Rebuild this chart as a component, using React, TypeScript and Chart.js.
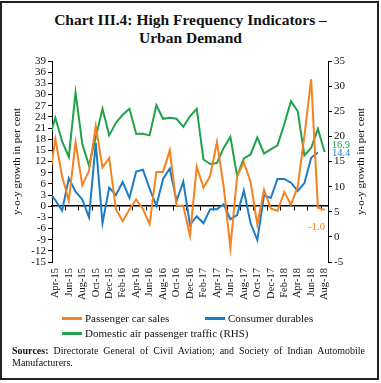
import React, { useEffect, useRef } from 'react';
import { Chart, registerables } from 'chart.js';

Chart.register(...registerables);

// Monthly categories (Mar-15 sits just left of the visible range and is clipped)
const months = [
  'Mar-15', 'Apr-15', 'May-15', 'Jun-15', 'Jul-15', 'Aug-15', 'Sep-15', 'Oct-15', 'Nov-15', 'Dec-15',
  'Jan-16', 'Feb-16', 'Mar-16', 'Apr-16', 'May-16', 'Jun-16', 'Jul-16', 'Aug-16', 'Sep-16', 'Oct-16', 'Nov-16', 'Dec-16',
  'Jan-17', 'Feb-17', 'Mar-17', 'Apr-17', 'May-17', 'Jun-17', 'Jul-17', 'Aug-17', 'Sep-17', 'Oct-17', 'Nov-17', 'Dec-17',
  'Jan-18', 'Feb-18', 'Mar-18', 'Apr-18', 'May-18', 'Jun-18', 'Jul-18', 'Aug-18',
];

const passengerCarSales = [
  6.3,
  18.0, 8.0, 1.5, 17.2, 5.6, 9.5, 21.5, 10.4, 12.9,
  -0.9, -4.0, -0.9, 1.8, -0.7, -4.8, 9.2, 9.2, 15.0, 0.2, 0.1, -8.0,
  10.6, 5.0, 8.1, 17.2, 5.3, -11.2, 8.1, 11.8, 6.5, -4.9, 4.4, -0.6,
  -1.3, 3.8, 0.4, 5.2, 19.0, 34.1, -0.4, -1.0,
];

const consumerDurables = [
  4.0,
  1.6, -1.2, 7.5, 3.9, 1.8, -3.0, 17.0, -4.6, 5.0,
  3.0, 6.5, 2.2, 9.3, 9.8, 4.7, 0.1, 7.3, 10.1, 1.4, 6.6, -5.0,
  -2.7, -4.6, -0.8, -0.8, 0.5, -3.5, -2.4, 4.2, -4.6, -9.1, 2.9, 2.2,
  7.3, 7.3, 6.3, 4.1, 6.2, 13.0, 14.4, null,
];

const domesticAirTraffic = [
  19.3,
  23.7, 19.0, 15.9, 28.7, 18.5, 14.2, 19.8, 25.5, 20.2,
  22.7, 24.3, 25.5, 20.5, 20.5, 20.2, 26.2, 23.5, 23.7, 23.5, 21.9, 24.0,
  25.5, 15.4, 14.5, 14.7, 17.7, 19.9, 12.1, 15.6, 16.4, 19.8, 16.6, 17.4,
  18.2, 22.4, 27.0, 25.0, 16.2, 17.7, 21.5, 16.9,
];

const seriesNames = ['Passenger car sales', 'Consumer durables', 'Domestic air passenger traffic (RHS)'];
const seriesColors = ['#F58220', '#1C7DC4', '#1FA34A'];

const leftAxis = { min: -15, max: 39, step: 3 };
const rightAxis = { min: -5, max: 35, step: 5 };

const axisTitle = 'y-o-y growth in per cent';
const FONT = '"Liberation Serif", "Times New Roman", serif';

// label placement relative to each series' last point
const endLabelStyle = [
  { dx: -8, dy: 17, align: 'center' },
  { dx: 14, dy: 1, align: 'left' },
  { dx: 7, dy: -7, align: 'left' },
];

const endLabelPlugin = {
  id: 'endLabels',
  afterDatasetsDraw(chart: any) {
    const ctx = chart.ctx;
    chart.data.datasets.forEach((ds: any, di: number) => {
      const meta = chart.getDatasetMeta(di);
      let idx = ds.data.length - 1;
      while (idx >= 0 && ds.data[idx] == null) idx--;
      const pt = meta.data[idx];
      if (!pt) return;
      const st = endLabelStyle[di];
      ctx.save();
      ctx.font = `10.5px ${FONT}`;
      ctx.fillStyle = ds.borderColor;
      ctx.textAlign = st.align;
      ctx.textBaseline = 'middle';
      ctx.fillText(Number(ds.data[idx]).toFixed(1), pt.x + st.dx, pt.y + st.dy);
      ctx.restore();
    });
  },
};

const rightTitlePlugin = {
  id: 'rightTitle',
  afterDraw(chart: any) {
    const s = chart.scales.y1;
    const ctx = chart.ctx;
    const area = chart.chartArea;
    ctx.save();
    ctx.translate(s.right - 20, (area.top + area.bottom) / 2);
    ctx.rotate(-Math.PI / 2);
    ctx.font = `11px ${FONT}`;
    ctx.fillStyle = '#111';
    ctx.textAlign = 'center';
    ctx.textBaseline = 'middle';
    ctx.fillText(axisTitle, 0, 0);
    ctx.restore();
  },
};

function ChartCanvas() {
  const ref = useRef<HTMLCanvasElement | null>(null);
  useEffect(() => {
    if (!ref.current) return;
    Chart.defaults.font.family = FONT;
    Chart.defaults.color = '#111';
    const mk = (data: (number | null)[], i: number, yAxisID: string) => ({
      label: seriesNames[i],
      data,
      borderColor: seriesColors[i],
      backgroundColor: seriesColors[i],
      borderWidth: 2,
      pointRadius: 0,
      tension: 0,
      fill: false,
      xAxisID: 'x',
      yAxisID,
    });
    const chart = new Chart(ref.current, {
      type: 'line',
      data: {
        labels: months,
        datasets: [
          mk(passengerCarSales, 0, 'y'),
          mk(consumerDurables, 1, 'y'),
          mk(domesticAirTraffic, 2, 'y1'),
        ],
      },
      plugins: [endLabelPlugin, rightTitlePlugin],
      options: {
        responsive: false,
        animation: false,
        layout: { padding: { top: 61, bottom: 76, left: 0, right: 0 } },
        plugins: { legend: { display: false }, tooltip: { enabled: false }, title: { display: false } },
        scales: {
          x: {
            type: 'category',
            position: 'bottom',
            min: months[1],
            offset: true,
            grid: { display: false, drawTicks: false },
            border: { display: false },
            ticks: {
              autoSkip: false,
              maxRotation: 90,
              minRotation: 90,
              padding: 6,
              font: { size: 10.5 },
              color: '#111',
              callback: (value: any) => {
                const v = Number(value);
                return (v - 1) % 2 === 0 ? months[v] : '';
              },
            },
            afterFit: (scale: any) => { scale.height = 45; },
          },
          x2: {
            type: 'category',
            axis: 'x',
            position: { y: 0 },
            min: months[1],
            offset: true,
            grid: {
              display: true,
              drawOnChartArea: false,
              drawTicks: true,
              tickLength: 4,
              offset: true,
              color: '#000',
              tickColor: (ctx: any) => {
                const v = ctx.tick ? Number(ctx.tick.value) : -1;
                return v >= 3 && v % 2 === 1 ? '#000' : 'rgba(0,0,0,0)';
              },
            },
            border: { display: true, color: '#000', width: 1.5 },
            ticks: { display: false, autoSkip: false },
          },
          y: {
            type: 'linear',
            position: 'left',
            min: leftAxis.min,
            max: leftAxis.max,
            grid: { drawOnChartArea: false, drawTicks: true, tickLength: 4, color: '#000', tickColor: '#000' },
            border: { display: true, color: '#000', width: 1 },
            ticks: { stepSize: leftAxis.step, autoSkip: false, padding: 2, font: { size: 11 }, color: '#111' },
            title: { display: true, text: axisTitle, font: { size: 11 }, color: '#111', padding: { top: 11, bottom: 0 } },
            afterFit: (scale: any) => { scale.width = 52; },
          },
          y1: {
            type: 'linear',
            position: 'right',
            min: rightAxis.min,
            max: rightAxis.max,
            grid: { drawOnChartArea: false, drawTicks: true, tickLength: 4, color: '#000', tickColor: '#000' },
            border: { display: true, color: '#000', width: 1 },
            ticks: { stepSize: rightAxis.step, autoSkip: false, padding: 2, font: { size: 11 }, color: '#111' },
            afterFit: (scale: any) => { scale.width = 53; },
          },
        },
      } as any,
    });
    return () => chart.destroy();
  }, []);
  return <canvas ref={ref} width={381} height={383} style={{ position: 'absolute', left: 0, top: 0, width: 381, height: 383 }} />;
}

function LegendItem({ i, left, top }: { i: number; left: number; top: number }) {
  return (
    <div style={{ position: 'absolute', left, top, display: 'flex', alignItems: 'center', height: 14, fontSize: 11, lineHeight: '14px', color: '#111', whiteSpace: 'nowrap' }}>
      <span style={{ display: 'inline-block', width: 20, height: 3, background: seriesColors[i], marginRight: 3 }} />
      <span>{seriesNames[i]}</span>
    </div>
  );
}

export default function App() {
  return (
    <div style={{ position: 'absolute', left: 0, top: 0, width: 381, height: 383, background: '#fff', fontFamily: FONT, overflow: 'hidden' }}>
      <div style={{ position: 'absolute', left: 0, top: 1, width: 375, height: 375, border: '2px solid #222' }} />
      <div style={{ position: 'absolute', left: 0, top: 11, width: 381, textAlign: 'center', fontWeight: 'bold', fontSize: 15.5, lineHeight: '18px', color: '#111' }}>
        Chart III.4: High Frequency Indicators –<br />Urban Demand
      </div>
      <ChartCanvas />
      <LegendItem i={0} left={62} top={311} />
      <LegendItem i={1} left={205} top={311} />
      <LegendItem i={2} left={62} top={326} />
      <div style={{ position: 'absolute', left: 12, top: 345, width: 353, fontSize: 10, lineHeight: '11.7px', color: '#111', textAlign: 'justify' }}>
        <div style={{ textAlign: 'justify', textAlignLast: 'justify' }}>
          <b>Sources:</b> Directorate General of Civil Aviation; and Society of Indian Automobile
        </div>
        <div>Manufacturers.</div>
      </div>
    </div>
  );
}
